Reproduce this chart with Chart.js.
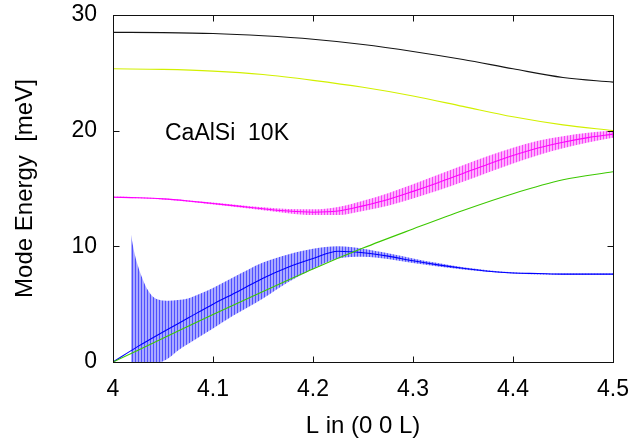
<!DOCTYPE html>
<html>
<head>
<meta charset="utf-8">
<script src="https://cdn.jsdelivr.net/npm/chart.js@4.4.1/dist/chart.umd.min.js"></script>
<style>
    html, body { margin: 0; padding: 0; background: #fff; }
</style>
</head>
<body>
<canvas id="modeChart" width="642" height="439"></canvas>
<script>
// wave vector grids, L in (0 0 L)
const L05 = [4.0, 4.05, 4.1, 4.15, 4.2, 4.25, 4.3, 4.35, 4.4, 4.45, 4.5];
const L025 = [4.0, 4.025, 4.05, 4.075, 4.1, 4.125, 4.15, 4.175, 4.2, 4.225, 4.25,
              4.275, 4.3, 4.325, 4.35, 4.375, 4.4, 4.425, 4.45, 4.475, 4.5];

// mode energies (meV)
const topMode   = [28.5, 28.48, 28.4, 28.2, 27.9, 27.45, 26.85, 26.15, 25.35, 24.6, 24.2];
const upperMode = [25.35, 25.3, 25.15, 24.85, 24.35, 23.75, 23.0, 22.1, 21.2, 20.5, 20.0];
const greenMode = [0, 2.05, 4.1, 6.1, 8.05, 9.85, 11.5, 13.1, 14.55, 15.75, 16.45];

const magentaMode = [14.25, 14.2, 14.1, 13.92, 13.7, 13.48, 13.25, 13.05, 12.95, 13.05, 13.5,
                     14.05, 14.75, 15.5, 16.3, 17.1, 17.85, 18.5, 19.0, 19.4, 19.7];
const magentaErr  = [0.05, 0.05, 0.06, 0.07, 0.08, 0.1, 0.13, 0.18, 0.25, 0.35, 0.45,
                     0.55, 0.62, 0.68, 0.72, 0.72, 0.68, 0.62, 0.52, 0.42, 0.32];

const blueMode = [0, 1.35, 2.6, 3.8, 5.0, 6.1, 7.25, 8.2, 8.95, 9.58, 9.45,
                  9.15, 8.75, 8.4, 8.1, 7.85, 7.7, 7.65, 7.6, 7.6, 7.6];

// blue error bar envelope (upper / lower ends of the bars)
const blueErrL  = [4.018, 4.021, 4.025, 4.03, 4.035, 4.04, 4.047, 4.055, 4.065, 4.075, 4.087, 4.1,
                   4.12, 4.15, 4.175, 4.2, 4.225, 4.25, 4.275, 4.3, 4.325, 4.35, 4.4, 4.45, 4.5];
const blueErrHi = [11.0, 9.6, 8.3, 7.1, 6.2, 5.65, 5.36, 5.3, 5.35, 5.5, 5.9, 6.4,
                   7.3, 8.6, 9.3, 9.8, 10.0, 9.8, 9.4, 8.95, 8.55, 8.2, 7.75, 7.65, 7.65];
const blueErrLo = [0, 0, 0, 0, 0, 0, 0, 0.3, 1.0, 1.55, 2.2, 2.9,
                   4.0, 5.5, 6.9, 8.05, 8.95, 9.1, 8.9, 8.55, 8.25, 8.0, 7.65, 7.55, 7.55];

const xTicks = [4, 4.1, 4.2, 4.3, 4.4, 4.5];
const xTickLabels = ['4', '4.1', '4.2', '4.3', '4.4', '4.5'];
const yTicks = [0, 10, 20, 30];

const pts = (xs, ys) => xs.map((x, i) => ({ x: x, y: ys[i] }));

// striped fill, looks like many thin error bars side by side
function stripes(dark, light) {
    const c = document.createElement('canvas');
    c.width = 3;
    c.height = 1;
    const g = c.getContext('2d');
    g.fillStyle = light;
    g.fillRect(0, 0, 3, 1);
    g.fillStyle = dark;
    g.fillRect(0, 0, 1, 1);
    return g.createPattern(c, 'repeat');
}

function curve(data, color, order) {
    return {
        data: data,
        borderColor: color,
        borderWidth: 1.1,
        pointRadius: 0,
        fill: false,
        cubicInterpolationMode: 'monotone',
        order: order
    };
}

function band(data, fill, bg) {
    return {
        data: data,
        borderWidth: 0,
        borderColor: 'rgba(0,0,0,0)',
        backgroundColor: bg,
        pointRadius: 0,
        fill: fill,
        cubicInterpolationMode: 'monotone',
        order: 10
    };
}

const blueStripes = stripes('rgb(80,80,255)', 'rgb(170,170,255)');
const magentaStripes = stripes('rgb(245,70,245)', 'rgb(255,175,255)');

// frame with inward ticks on all four sides, plus the sample label
const frame = {
    id: 'frame',
    afterDraw(chart) {
        const { ctx, chartArea: a, scales: { x, y } } = chart;
        const l = Math.round(a.left) + 0.5, r = Math.round(a.right) + 0.5;
        const t = Math.round(a.top) + 0.5, b = Math.round(a.bottom) + 0.5;
        ctx.save();
        ctx.strokeStyle = '#111';
        ctx.lineWidth = 1;
        ctx.beginPath();
        xTicks.forEach(v => {
            const px = Math.round(x.getPixelForValue(v)) + 0.5;
            ctx.moveTo(px, b); ctx.lineTo(px, b - 6);
            ctx.moveTo(px, t); ctx.lineTo(px, t + 6);
        });
        yTicks.forEach(v => {
            const py = Math.round(y.getPixelForValue(v)) + 0.5;
            ctx.moveTo(l, py); ctx.lineTo(l + 6, py);
            ctx.moveTo(r, py); ctx.lineTo(r - 6, py);
        });
        ctx.stroke();
        ctx.strokeRect(l, t, r - l, b - t);

        ctx.fillStyle = '#000';
        ctx.font = '23px "Liberation Sans", Arial, sans-serif';
        ctx.textBaseline = 'alphabetic';
        ctx.fillText('CaAlSi  10K', x.getPixelForValue(4.052), y.getPixelForValue(19.2));
        ctx.restore();
    }
};

const tickFont = { family: '"Liberation Sans", Arial, sans-serif', size: 23 };
const titleFont = { family: '"Liberation Sans", Arial, sans-serif', size: 24, lineHeight: 1 };

new Chart(document.getElementById('modeChart'), {
    type: 'line',
    data: {
        datasets: [
            curve(pts(L05, greenMode), 'rgb(60,200,0)', 0),
            curve(pts(L025, blueMode), 'rgb(0,0,255)', 1),
            curve(pts(L025, magentaMode), 'rgb(255,0,255)', 1),
            curve(pts(L05, upperMode), 'rgb(210,240,0)', 1),
            curve(pts(L05, topMode), 'rgb(20,20,20)', 1),
            band(pts(L025, magentaMode.map((v, i) => v + magentaErr[i])), '+1', magentaStripes),
            band(pts(L025, magentaMode.map((v, i) => v - magentaErr[i])), false, magentaStripes),
            band(pts(blueErrL, blueErrHi), '+1', blueStripes),
            band(pts(blueErrL, blueErrLo), false, blueStripes)
        ]
    },
    options: {
        responsive: false,
        animation: false,
        layout: { padding: { left: 0, right: 29, top: 15, bottom: 0 } },
        plugins: {
            legend: { display: false },
            tooltip: { enabled: false }
        },
        scales: {
            x: {
                type: 'linear',
                min: 4,
                max: 4.5,
                afterFit: s => { s.height = 77; s.paddingLeft = 0; s.paddingRight = 0; },
                afterBuildTicks: s => { s.ticks = xTicks.map(v => ({ value: v })); },
                grid: { display: false, drawTicks: false },
                border: { display: false },
                ticks: {
                    color: '#000',
                    font: tickFont,
                    padding: 14,
                    maxRotation: 0,
                    callback: (v, i) => xTickLabels[i]
                },
                title: {
                    display: true,
                    text: 'L in (0 0 L)',
                    color: '#000',
                    font: titleFont,
                    padding: { top: 0, bottom: 1 }
                }
            },
            y: {
                min: 0,
                max: 30,
                afterFit: s => { s.width = 113; s.paddingTop = 0; s.paddingBottom = 0; },
                afterBuildTicks: s => { s.ticks = yTicks.map(v => ({ value: v })); },
                grid: { display: false, drawTicks: false },
                border: { display: false },
                ticks: {
                    color: '#000',
                    font: tickFont,
                    padding: 16
                },
                title: {
                    display: true,
                    text: 'Mode Energy  [meV]',
                    color: '#000',
                    font: titleFont,
                    padding: { top: 13, bottom: 0 }
                }
            }
        }
    },
    plugins: [frame]
});
</script>
</body>
</html>
